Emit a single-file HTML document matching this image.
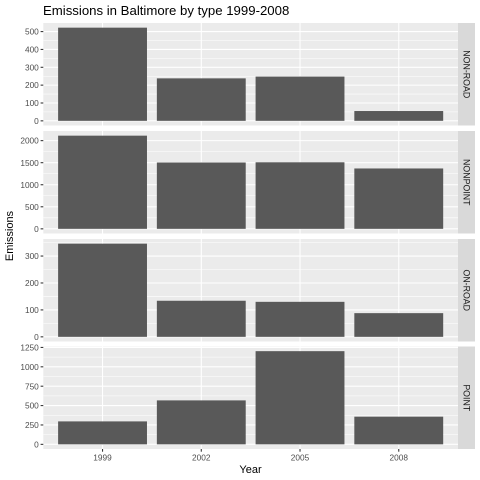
<!DOCTYPE html>
<html><head><meta charset="utf-8"><style>
html,body{margin:0;padding:0;background:#fff}
svg{display:block;font-family:"Liberation Sans",Arial,sans-serif}
</style></head><body>
<svg id="chart" width="480" height="480" viewBox="0 0 480 480" xmlns="http://www.w3.org/2000/svg">
<text x="43" y="15" font-size="13.2" fill="#000">Emissions in Baltimore by type 1999-2008</text>
<text x="250.5" y="473" font-size="11" text-anchor="middle" fill="#000">Year</text>
<text transform="translate(13,236) rotate(-90)" font-size="11" text-anchor="middle" fill="#000">Emissions</text>
<g id="panels"></g>
</svg>
<script>
const categories = ["1999","2002","2005","2008"];
const panelNames = ["NON-ROAD","NONPOINT","ON-ROAD","POINT"];
const nonRoad = [522, 238, 248, 55];
const nonPoint = [2113, 1504, 1509, 1369];
const onRoad = [346, 134, 130, 88];
const point = [296, 567, 1202, 357];
const tickNonRoad = [0,100,200,300,400,500];
const tickNonPoint = [0,500,1000,1500,2000];
const tickOnRoad = [0,100,200,300];
const tickPoint = [0,250,500,750,1000,1250];

const series = [nonRoad, nonPoint, onRoad, point];
const ticks = [tickNonRoad, tickNonPoint, tickOnRoad, tickPoint];
const NS = "http://www.w3.org/2000/svg";
const g = document.getElementById("panels");
const px0 = 43.3, px1 = 458, stripW = 17;
const panelTop = [23, 131, 239, 346.5], panelH = 102.5;
function mk(tag, attrs, parent){const e=document.createElementNS(NS,tag);for(const k in attrs)e.setAttribute(k,attrs[k]);(parent||g).appendChild(e);return e;}
const xUnit = (px1-px0)/(categories.length - 1 + 1.2);
function xScale(i){return px0 + (i+0.6)*xUnit;}

series.forEach((vals, p)=>{
  const top = panelTop[p], bot = top+panelH;
  const M = Math.max(...vals);
  const lo = -0.05*M, hi = 1.05*M;
  const y = v => bot - (v-lo)/(hi-lo)*panelH;
  const pg = mk("g",{});
  
  
  mk("rect",{x:px0,y:top,width:px1-px0,height:panelH,fill:"#ebebeb"},pg);
  const tk = ticks[p];
  const step = tk[1]-tk[0];
  for(let i=0;i<tk.length;i++){
    const mv = tk[i]+step/2;
    if(y(mv)>top) mk("line",{x1:px0,x2:px1,y1:y(mv),y2:y(mv),stroke:"#fff","stroke-width":0.53},pg);
  }
  tk.forEach(t=>{
    mk("line",{x1:px0,x2:px1,y1:y(t),y2:y(t),stroke:"#fff","stroke-width":1.07},pg);
    mk("line",{x1:px0-2.7,x2:px0,y1:y(t),y2:y(t),stroke:"#333","stroke-width":1.07},pg);
    const lb = mk("text",{x:px0-4.5,y:y(t)+3.1,"font-size":"8.3","text-anchor":"end",fill:"#4d4d4d"},pg);
    lb.textContent = t;
    
    
  });
  categories.forEach((c,i)=>{
    mk("line",{x1:xScale(i),x2:xScale(i),y1:top,y2:bot,stroke:"#fff","stroke-width":1.07},pg);
  });
  vals.forEach((v,i)=>{
    const r = mk("rect",{x:xScale(i)-0.45*xUnit,y:y(v),width:0.9*xUnit,height:y(0)-y(v),fill:"#595959"},pg);
    
    
  });
  const s = mk("rect",{x:px1,y:top,width:stripW,height:panelH,fill:"#d9d9d9"},pg);
  
  
  const st = mk("text",{transform:`translate(${px1+stripW/2-3},${top+panelH/2}) rotate(90)`,"font-size":"8.8","text-anchor":"middle",fill:"#1a1a1a"},pg);
  st.textContent = panelNames[p];
  
  
  if(p===series.length-1){
    categories.forEach((c,i)=>{
      mk("line",{x1:xScale(i),x2:xScale(i),y1:bot,y2:bot+2.7,stroke:"#333","stroke-width":1.07},pg);
      const xl = mk("text",{x:xScale(i),y:bot+11.5,"font-size":"8.3","text-anchor":"middle",fill:"#4d4d4d"},pg);
      xl.textContent = c;
      
      
    });
  }
});
</script>
</body></html>
